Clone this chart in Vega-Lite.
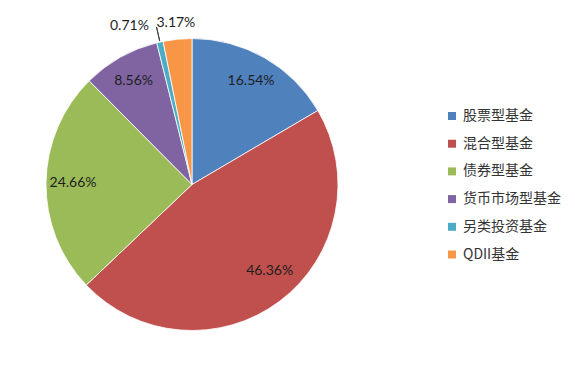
{
  "$schema": "https://vega.github.io/schema/vega-lite/v6.json",
  "width": 384,
  "height": 369,
  "padding": 0,
  "background": "#ffffff",
  "config": {"view": {"stroke": null}},
  "data": {
    "values": [
      {"name": "股票型基金", "pct": 16.54, "label": "16.54%", "i": 1},
      {"name": "混合型基金", "pct": 46.36, "label": "46.36%", "i": 2},
      {"name": "债券型基金", "pct": 24.66, "label": "24.66%", "i": 3},
      {"name": "货币市场型基金", "pct": 8.56, "label": "8.56%", "i": 4},
      {"name": "另类投资基金", "pct": 0.71, "label": "0.71%", "i": 5},
      {"name": "QDII基金", "pct": 3.17, "label": "3.17%", "i": 6}
    ]
  },
  "encoding": {
    "theta": {"field": "pct", "type": "quantitative", "stack": true},
    "order": {"field": "i", "type": "quantitative"}
  },
  "layer": [
    {
      "mark": {"type": "arc", "radius": 146, "stroke": "#ffffff", "strokeWidth": 0.8},
      "encoding": {
        "color": {
          "field": "name",
          "type": "nominal",
          "sort": ["股票型基金", "混合型基金", "债券型基金", "货币市场型基金", "另类投资基金", "QDII基金"],
          "scale": {
            "domain": ["股票型基金", "混合型基金", "债券型基金", "货币市场型基金", "另类投资基金", "QDII基金"],
            "range": ["#4F81BD", "#C0504D", "#9BBB59", "#8064A2", "#4BACC6", "#F79646"]
          },
          "legend": {
            "title": null,
            "orient": "none",
            "legendX": 445,
            "legendY": 109,
            "padding": 0,
            "symbolType": "square",
            "symbolSize": 64,
            "symbolStrokeWidth": 0,
            "labelFont": "Noto Sans CJK SC",
            "labelFontSize": 14,
            "labelColor": "#333333",
            "labelOffset": 4,
            "rowPadding": 13.7,
            "labelLimit": 200
          }
        }
      }
    },
    {
      "mark": {"type": "arc", "radius": 147, "radius2": 161.5, "padAngle": 0.3, "fillOpacity": 0, "stroke": "#404040", "strokeWidth": 1},
      "encoding": {
        "strokeOpacity": {"condition": {"test": "datum.name === '另类投资基金'", "value": 1}, "value": 0}
      }
    },
    {
      "mark": {"type": "text", "radius": 119, "font": "Lato", "fontSize": 14, "color": "#1e1e1e"},
      "encoding": {
        "text": {"condition": {"test": "datum.pct > 5 && datum.name !== '混合型基金'", "field": "label"}, "value": ""}
      }
    },
    {
      "mark": {"type": "text", "radius": 119, "dx": 6, "dy": -9, "font": "Lato", "fontSize": 14, "color": "#1e1e1e"},
      "encoding": {
        "text": {"condition": {"test": "datum.name === '混合型基金'", "field": "label"}, "value": ""}
      }
    },
    {
      "mark": {"type": "text", "radius": 162, "font": "Lato", "fontSize": 14, "color": "#1e1e1e"},
      "encoding": {
        "text": {"condition": {"test": "datum.name === 'QDII基金'", "field": "label"}, "value": ""}
      }
    },
    {
      "mark": {"type": "text", "radius": 162, "dx": -27, "font": "Lato", "fontSize": 14, "color": "#1e1e1e"},
      "encoding": {
        "text": {"condition": {"test": "datum.name === '另类投资基金'", "field": "label"}, "value": ""}
      }
    }
  ]
}
